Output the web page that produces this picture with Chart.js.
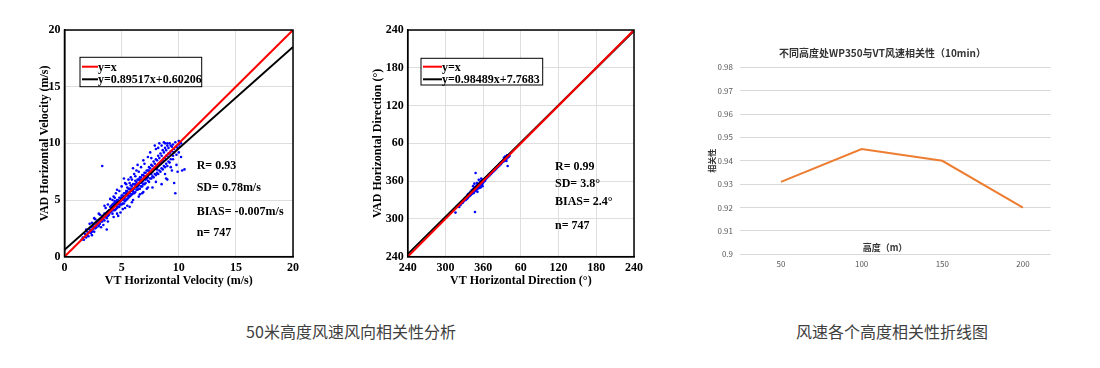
<!DOCTYPE html>
<html>
<head>
<meta charset="utf-8">
<script src="https://cdn.jsdelivr.net/npm/chart.js@4.4.0/dist/chart.umd.min.js"></script>
<style>
  body { margin: 0; background: #fff; width: 1100px; height: 368px; position: relative; overflow: hidden; }
  canvas { position: absolute; }
  .pie { position: absolute; top: 319px; font-family: "Noto Sans CJK SC", sans-serif; font-size: 16px; color: #404040; white-space: nowrap; transform: translateX(-50%); }
</style>
</head>
<body>
<canvas id="velocidad" width="310" height="300" style="left:0;top:0"></canvas>
<canvas id="direccion" width="310" height="300" style="left:340px;top:0"></canvas>
<canvas id="alturas" width="400" height="240" style="left:700px;top:40px"></canvas>
<div class="pie" style="left:351px">50米高度风速风向相关性分析</div>
<div class="pie" style="left:892px">风速各个高度相关性折线图</div>
<script>
// Datos de velocidad: [VT, VAD] en m/s
const puntosVelocidad = [
  [1.5,1.5],[1.6,1.7],[1.7,1.5],[1.8,2.0],[1.9,1.7],[1.9,2.4],[2.0,1.9],[2.0,2.2],[2.1,1.8],[2.2,2.4],
  [2.2,2.9],[2.3,2.1],[2.3,2.6],[2.4,2.2],[2.4,1.9],[2.5,2.7],[2.5,2.4],[2.6,2.9],[2.6,2.2],[2.7,2.5],
  [2.7,3.3],[2.8,3.0],[2.8,2.6],[2.9,2.8],[3.0,3.2],[3.0,2.7],[3.1,2.9],[3.2,3.4],[3.2,2.6],[3.3,3.1],
  [3.3,3.6],[3.4,3.3],[3.4,2.8],[3.5,3.8],[3.5,3.2],[3.6,3.5],[3.6,4.3],[3.7,3.9],[3.7,3.4],[3.7,2.4],
  [3.8,3.6],[3.8,4.6],[3.9,4.1],[3.9,3.7],[4.0,3.9],[4.0,4.4],[4.0,5.1],[3.3,8.0],[2.4,3.0],[3.1,3.7],
  [4.1,4.2],[4.2,4.6],[4.2,3.8],[4.3,4.4],[4.3,5.3],[4.4,4.9],[4.4,4.1],[4.5,4.5],[4.5,5.6],[4.6,5.0],
  [4.6,4.3],[4.7,4.7],[4.7,3.6],[4.8,5.2],[4.8,4.4],[4.9,4.9],[4.9,3.9],[5.0,5.4],[5.0,4.6],[5.0,6.2],
  [5.1,5.0],[5.2,5.6],[5.2,4.7],[5.2,6.9],[5.3,5.2],[5.3,6.5],[5.4,5.8],[5.4,5.0],[5.5,5.4],[5.5,4.5],
  [5.6,6.0],[5.6,5.2],[5.6,6.8],[5.7,5.6],[5.8,6.3],[5.8,5.4],[5.8,7.0],[5.9,5.8],[5.9,4.8],[6.0,6.4],
  [6.0,5.6],[6.0,7.8],[6.1,6.0],[6.1,7.3],[6.2,6.7],[6.2,5.7],[6.3,6.1],[6.3,7.6],[6.4,6.8],[6.4,5.9],
  [6.4,8.1],[6.5,6.3],[6.5,5.3],[6.6,7.0],[6.6,6.0],[6.7,6.5],[6.7,7.9],[6.8,7.2],[6.8,6.2],[6.9,6.7],
  [6.9,5.7],[7.0,7.4],[7.0,6.4],[4.6,5.9],[5.1,4.2],[5.7,6.5],[6.2,7.1],[4.4,5.2],[5.5,6.1],[6.6,6.6],
  [7.1,6.8],[7.2,7.6],[7.2,6.0],[7.3,7.0],[7.3,8.8],[7.4,7.9],[7.4,6.6],[7.5,7.3],[7.6,8.1],[7.6,6.9],
  [7.7,7.5],[7.7,6.1],[7.8,8.4],[7.8,7.0],[7.9,7.8],[7.9,9.8],[8.0,8.6],[8.0,7.2],[8.0,9.5],[8.1,8.0],
  [8.2,8.9],[8.2,7.3],[8.3,8.2],[8.3,10.0],[8.4,9.1],[8.4,7.5],[8.5,8.4],[8.5,6.4],[8.6,9.4],[8.6,7.7],
  [8.7,8.7],[8.7,10.1],[8.8,9.6],[8.8,7.9],[8.9,8.9],[8.9,6.9],[9.0,9.8],[9.0,8.0],[9.0,6.8],[9.1,9.1],
  [9.2,10.0],[9.2,8.3],[9.3,9.3],[9.4,9.7],[9.4,7.6],[9.5,8.6],[9.6,9.5],[9.6,6.5],[9.7,10.1],[9.7,5.6],
  [9.8,9.0],[9.9,9.6],[9.9,7.5],[10.0,10.2],[10.0,9.2],[10.1,9.7],[10.2,8.8],[10.3,7.6],[10.5,7.7],[8.1,7.7],
  [2.1,2.1],[2.3,2.3],[2.5,2.5],[2.6,2.6],[2.8,2.8],[2.9,3.1],[3.0,3.0],[3.1,3.3],[3.2,3.1],[3.3,3.4],
  [3.4,3.5],[3.5,3.5],[3.6,3.7],[3.7,3.7],[3.8,4.0],[3.9,3.9],[4.0,4.1],[4.1,4.0],[4.1,4.5],[4.2,4.3],
  [4.3,4.1],[4.3,4.7],[4.4,4.5],[4.5,4.2],[4.5,4.8],[4.6,4.6],[4.7,5.0],[4.7,4.4],[4.8,4.8],[4.9,5.2],
  [4.9,4.6],[5.0,5.0],[5.1,5.4],[5.1,4.7],[5.2,5.2],[5.3,5.6],[5.3,4.9],[5.4,5.4],[5.5,5.8],[5.5,5.1],
  [5.6,5.6],[5.7,6.0],[5.7,5.3],[5.8,5.8],[5.9,6.2],[5.9,5.5],[6.0,6.0],[6.1,6.4],[6.1,5.6],[6.2,6.2],
  [6.3,6.6],[6.3,5.9],[6.4,6.4],[6.5,6.8],[6.5,6.0],[6.6,6.5],[6.7,7.0],[6.7,6.2],[6.8,6.8],[6.9,7.2],
  [6.9,6.4],[7.0,6.9],[7.1,7.4],[7.1,6.5],[7.2,7.1],[7.3,7.6],[7.3,6.7],[7.4,7.3],[7.5,7.8],[7.5,6.9],
  [7.6,7.5],[7.7,8.0],[7.7,7.1],[7.8,7.7],[7.9,8.2],[7.9,7.3],[8.0,7.9],[8.1,8.5],[8.1,7.4],[8.2,8.1],
  [8.3,8.7],[8.3,7.6],[8.4,8.3],[8.5,8.9],[8.5,7.8],[8.6,8.5],[8.7,9.2],[8.7,8.0],[8.8,8.7],[8.9,9.4],
  [8.9,8.2],[9.0,8.9],[9.1,9.6],[9.1,8.4],[9.2,9.1],[9.3,9.8],[9.3,8.6],[9.4,9.3],[9.5,9.9],[9.5,8.9],
  [9.6,9.2],[9.8,9.7],[10.0,9.9],[4.2,5.0],[4.8,5.8],[5.4,6.4],[5.9,6.8],[6.5,7.5],[7.0,8.2],[7.6,8.7],
  [8.2,9.6],[8.8,10.0],[4.6,3.8],[5.3,4.3],[6.0,5.0],[6.6,5.5],[7.3,6.1],[8.0,6.6],[8.8,7.3],[9.3,7.9],
  [3.5,4.5],[3.0,3.8],[2.6,3.4],[3.8,3.1],[4.3,3.5],[5.7,4.4],[6.8,5.6],[7.5,9.2],[6.9,8.5],[9.8,8.1],
  [10.2,10.0],[9.0,10.0],[8.5,9.8],[4.4,4.7],[4.6,4.9],[4.8,4.6],[5.0,5.2],[5.2,5.0],[5.4,5.6],[5.6,5.4],
  [5.8,6.0],[6.0,5.8],[6.2,6.4],[6.4,6.2],[6.6,6.8],[6.8,6.6],[7.0,7.1],[7.2,6.9],[7.4,7.6],[7.6,7.3]
];
// Datos de direccion: [VT, VAD] en grados (valores > 360 = pasado el norte)
const puntosDireccion = [
  [318,320],[320,322],[321,321],[323,324],[324,322],[325,326],[326,325],[327,328],[328,326],[329,330],
  [330,329],[331,333],[332,330],[333,334],[334,332],[335,337],[336,334],[337,338],[338,336],[339,341],
  [340,338],[341,342],[342,340],[343,345],[344,342],[345,347],[345,343],[346,346],[347,349],[347,344],
  [348,347],[349,351],[349,346],[350,350],[351,353],[351,348],[352,352],[353,355],[353,350],[354,356],
  [355,354],[355,358],[356,357],[357,355],[357,360],[358,358],[359,361],[359,356],[360,360],[361,362],
  [362,360],[363,364],[364,363],[365,366],[366,365],[367,368],[368,367],[369,370],[370,369],[371,372],
  [372,371],[373,374],[374,373],[375,376],[376,375],[377,378],[378,377],[379,380],[380,379],[381,382],
  [382,381],[383,384],[384,383],[385,386],[386,385],[387,388],[388,387],[389,390],[390,389],[391,392],
  [392,391],[393,394],[394,392],[395,396],[396,394],[397,398],[398,396],[399,400],[400,398],[401,402],
  [397,392],[395,399],[393,397],[348,373],[347,311],[316,310],[399,384],[344,352],[351,343],[346,356],
  [356,350],[359,352],[353,362],[350,357],[354,349],[357,364],[322,319],[336,339],[342,346],[333,331],
  [335,333],[337,340],[339,337],[340,343],[341,339],[342,344],[343,341],[344,347],[345,341],[346,349],
  [347,346],[348,351],[348,345],[349,348],[350,353],[350,347],[351,351],[352,355],[352,349],[353,353],
  [354,352],[355,356],[356,354],[356,359],[357,357],[358,356],[358,361],[359,359],[360,362],[360,358],
  [361,360],[362,363],[363,361],[364,365],[366,367],[368,369],[372,373],[376,377],[380,381],[384,385],
  [388,389],[392,393],[394,396],[396,397],[398,399],[398,401],[400,401],[402,400],[396,398],[394,395],
  [390,391],[386,387],[382,383],[378,379],[374,375],[370,371],[328,329],[326,327],[324,325],[345,345],
  [347,347],[349,349],[352,353],[354,354],[356,356],[358,359]
];
// Rectas: y=x y ajuste lineal
const rectaX = [0, 20];
const ajusteVelY = [0.602, 18.505];
const rectaDirX = [240, 600];
const ajusteDirY = [244.14, 598.73];
// Correlacion por altura
const alturas = [50, 100, 150, 200];
const correlacion = [0.931, 0.945, 0.940, 0.920];

const serif = "'Liberation Serif', 'Times New Roman', serif";
const fuenteNegrita = { family: serif, weight: 'bold', size: 12 };

// Plugin que dibuja el marco, la leyenda y los textos de estadisticas
const anotaciones = {
  id: 'anotaciones',
  afterDraw(chart, args, opts) {
    const ctx = chart.ctx;
    const a = chart.chartArea;
    ctx.save();
    if (opts.marco) {
      ctx.strokeStyle = '#000';
      ctx.lineWidth = 1.5;
      ctx.strokeRect(a.left, a.top, a.right - a.left, a.bottom - a.top);
    }
    if (opts.leyenda) {
      const l = opts.leyenda;
      const x0 = a.left + l.x, y0 = a.top + l.y;
      ctx.fillStyle = '#fff';
      ctx.fillRect(x0, y0, l.w, l.h);
      ctx.strokeStyle = '#000';
      ctx.lineWidth = 1;
      ctx.strokeRect(x0, y0, l.w, l.h);
      ctx.font = 'bold 12px ' + serif;
      ctx.textBaseline = 'middle';
      l.items.forEach((it, i) => {
        const yy = y0 + l.filas[i];
        ctx.strokeStyle = it.color;
        ctx.lineWidth = 2;
        ctx.beginPath();
        ctx.moveTo(x0 + 2, yy);
        ctx.lineTo(x0 + l.linea, yy);
        ctx.stroke();
        ctx.fillStyle = '#000';
        ctx.fillText(it.texto, x0 + l.linea, yy + 1);
      });
    }
    if (opts.textos) {
      ctx.font = 'bold 12px ' + serif;
      ctx.fillStyle = '#000';
      ctx.textBaseline = 'middle';
      opts.textos.forEach(t => ctx.fillText(t.texto, a.left + t.x, a.top + t.y));
    }
    if (opts.libres) {
      opts.libres.forEach(t => {
        ctx.font = t.font;
        ctx.fillStyle = t.color;
        ctx.textAlign = 'center';
        ctx.textBaseline = 'middle';
        ctx.fillText(t.texto, t.x, t.y);
      });
    }
    ctx.restore();
  }
};

function opcionesDispersion(cfg) {
  return {
    responsive: false,
    animation: false,
    devicePixelRatio: 1,
    layout: { padding: { top: 30, right: cfg.derecha, left: 0, bottom: 0 } },
    plugins: {
      legend: { display: false },
      tooltip: { enabled: false },
      anotaciones: { marco: true, leyenda: cfg.leyenda, textos: cfg.textos }
    },
    scales: {
      x: {
        type: 'linear', min: cfg.min, max: cfg.max,
        ticks: { stepSize: cfg.paso, color: '#000', font: fuenteNegrita, padding: 4, callback: cfg.etiqueta, maxRotation: 0 },
        grid: { color: '#dedede', drawTicks: false },
        border: { color: '#000', width: 1.5 },
        title: { display: true, text: cfg.tituloX, color: '#000', font: fuenteNegrita, padding: { top: 0, bottom: 12 } },
        afterFit(s) { s.height = 43.3; }
      },
      y: {
        type: 'linear', min: cfg.min, max: cfg.max,
        ticks: { stepSize: cfg.paso, color: '#000', font: fuenteNegrita, padding: 4, callback: cfg.etiqueta },
        grid: { color: '#dedede', drawTicks: false },
        border: { color: '#000', width: 1.5 },
        title: { display: true, text: cfg.tituloY, color: '#000', font: fuenteNegrita, padding: { top: cfg.tituloYpad, bottom: 0 } },
        afterFit(s) { s.width = cfg.anchoY; }
      }
    }
  };
}

// Grafico 1: velocidad
new Chart(document.getElementById('velocidad'), {
  type: 'scatter',
  data: {
    datasets: [
      { type: 'line', data: rectaX.map((x, i) => ({ x: x, y: rectaX[i] })), borderColor: '#ff0000', borderWidth: 2, pointRadius: 0 },
      { type: 'line', data: rectaX.map((x, i) => ({ x: x, y: ajusteVelY[i] })), borderColor: '#000', borderWidth: 2, pointRadius: 0 },
      { data: puntosVelocidad.map(p => ({ x: p[0], y: p[1] })), backgroundColor: '#0000ff', borderWidth: 0, pointRadius: 1.3 }
    ]
  },
  plugins: [anotaciones],
  options: opcionesDispersion({
    min: 0, max: 20, paso: 5, derecha: 17, anchoY: 64.5, tituloYpad: 37.8,
    tituloX: 'VT Horizontal Velocity (m/s)', tituloY: 'VAD Horizontal Velocity (m/s)',
    etiqueta: v => v,
    leyenda: { x: 15.5, y: 27.3, w: 121.7, h: 29.4, linea: 18, filas: [9.4, 22],
      items: [{ color: '#ff0000', texto: 'y=x' }, { color: '#000', texto: 'y=0.89517x+0.60206' }] },
    textos: [
      { texto: 'R= 0.93', x: 132.2, y: 135.7 },
      { texto: 'SD= 0.78m/s', x: 132.2, y: 158.3 },
      { texto: 'BIAS= -0.007m/s', x: 132.2, y: 182.3 },
      { texto: 'n= 747', x: 132.2, y: 203.3 }
    ]
  })
});

// Grafico 2: direccion
new Chart(document.getElementById('direccion'), {
  type: 'scatter',
  data: {
    datasets: [
      { type: 'line', data: rectaDirX.map((x, i) => ({ x: x, y: rectaDirX[i] })), borderColor: '#ff0000', borderWidth: 2, pointRadius: 0 },
      { type: 'line', data: rectaDirX.map((x, i) => ({ x: x, y: ajusteDirY[i] })), borderColor: '#000', borderWidth: 2, pointRadius: 0 },
      { data: puntosDireccion.map(p => ({ x: p[0], y: p[1] })), backgroundColor: '#0000ff', borderWidth: 0, pointRadius: 1.3 }
    ]
  },
  plugins: [anotaciones],
  options: opcionesDispersion({
    min: 240, max: 600, paso: 60, derecha: 16, anchoY: 67.7, tituloYpad: 31,
    tituloX: 'VT Horizontal Direction (°)', tituloY: 'VAD Horizontal Direction (°)',
    etiqueta: v => (v > 360 ? v - 360 : v),
    leyenda: { x: 13.3, y: 28.3, w: 121.7, h: 26.7, linea: 21, filas: [8.4, 21],
      items: [{ color: '#ff0000', texto: 'y=x' }, { color: '#000', texto: 'y=0.98489x+7.7683' }] },
    textos: [
      { texto: 'R= 0.99', x: 147.3, y: 136.7 },
      { texto: 'SD= 3.8°', x: 147.3, y: 154.3 },
      { texto: 'BIAS= 2.4°', x: 147.3, y: 172.3 },
      { texto: 'n= 747', x: 147.3, y: 195.7 }
    ]
  })
});

// Grafico 3: correlacion por altura
const cjk = "'Noto Sans CJK SC', sans-serif";
new Chart(document.getElementById('alturas'), {
  type: 'line',
  data: {
    datasets: [{
      data: alturas.map((h, i) => ({ x: h, y: correlacion[i] })),
      borderColor: '#ed7d31', borderWidth: 2, pointRadius: 0, tension: 0
    }]
  },
  plugins: [anotaciones],
  options: {
    responsive: false,
    animation: false,
    devicePixelRatio: 1,
    layout: { padding: { top: 27.3, right: 49.3, left: 0, bottom: 0 } },
    plugins: {
      legend: { display: false },
      tooltip: { enabled: false },
      anotaciones: {
        libres: [
          { texto: '不同高度处WP350与VT风速相关性（10min）', x: 182.5, y: 13, font: 'bold 10px ' + cjk, color: '#333' },
          { texto: '高度（m）', x: 185, y: 208, font: 'bold 9px ' + cjk, color: '#333' }
        ]
      }
    },
    scales: {
      x: {
        type: 'linear', min: 24.6, max: 217.2,
        afterBuildTicks(s) { s.ticks = alturas.map(v => ({ value: v })); },
        ticks: { color: '#595959', font: { family: cjk, size: 8 }, padding: -3 },
        grid: { display: false },
        border: { display: false },
        afterFit(s) { s.height = 25.7; }
      },
      y: {
        min: 0.9, max: 0.98,
        ticks: { stepSize: 0.01, color: '#595959', font: { family: cjk, size: 8 }, padding: 7, callback: v => String(+v.toFixed(2)) },
        grid: { color: '#d9d9d9', drawTicks: false },
        border: { display: false },
        title: { display: true, text: '相关性', color: '#333', font: { family: cjk, size: 8, weight: 'bold' }, padding: { top: 7.2, bottom: 0 } },
        afterFit(s) { s.width = 40; }
      }
    }
  }
});
</script>
</body>
</html>
